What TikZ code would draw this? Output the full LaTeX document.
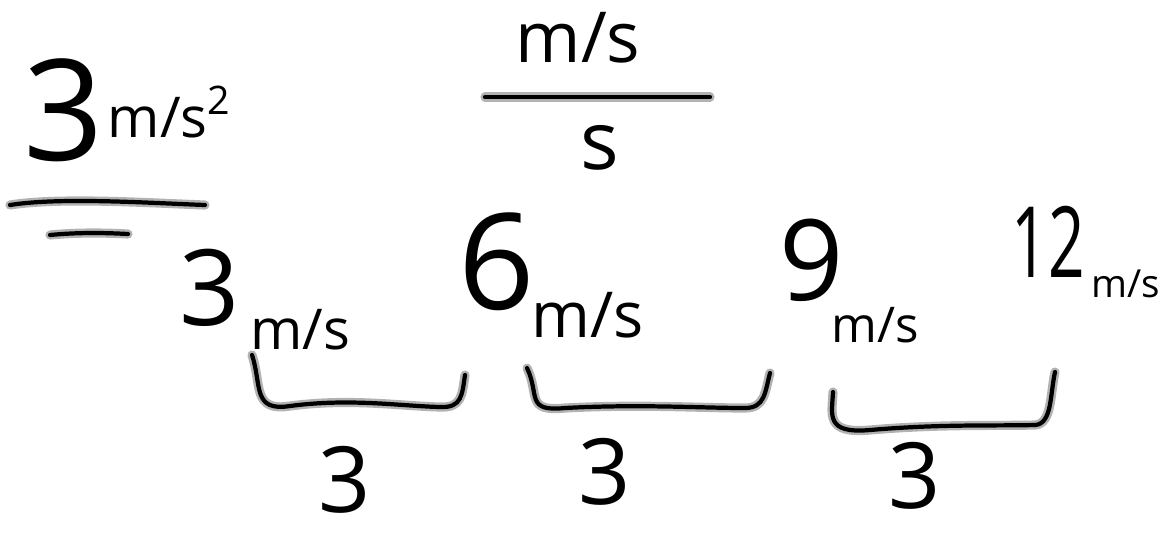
\documentclass[tikz,border=0pt]{standalone}
\usepackage{fontspec}
\setmainfont{Open Sans}

\tikzset{
  ink/.style={line width=1.2pt, line cap=round, line join=round,
    preaction={draw=gray!60, line width=2.6pt, line cap=round, line join=round}},
  hand/.style={inner sep=0pt, font=\fontsize{#1}{#1}\selectfont}
}

\begin{document}
\begin{tikzpicture}[x=0.01cm, y=-0.01cm]

    % canvas in pixel units (1166 x 532)
    \useasboundingbox (0,0) rectangle (1166,532);

    % 1. acceleration written on the left
    \node[hand=40pt] (accNum) at (64,110) {3};
    \node[hand=16pt] (accUnit) at (170,112) {m/s\textsuperscript{2}};

    \coordinate (accBarL) at (10,205);
    \coordinate (accBarR) at (205,205);
    \coordinate (accDashL) at (50,235);
    \coordinate (accDashR) at (128,234);
    \draw[ink] (accBarL) .. controls (60,197) and (150,203) .. (accBarR);
    \draw[ink] (accDashL) .. controls (80,232) and (110,233) .. (accDashR);

    % 2. the unit fraction at the top
    \node[hand=20pt] (topNum) at (578,38) {m/s};
    \node[hand=23pt] (topDen) at (600,148) {s};
    \coordinate (fracL) at (485,97);
    \coordinate (fracR) at (710,97);
    \draw[ink] (fracL) -- (fracR);

    % 3. speeds
    \node[hand=30pt] (vA) at (210,288) {3};
    \node[hand=16pt] (vAu) at (300,330) {m/s};
    \node[hand=38pt] (vB) at (497,262) {6};
    \node[hand=18pt] (vBu) at (588,315) {m/s};
    \node[hand=32pt] (vC) at (812,260) {9};
    \node[hand=14pt] (vCu) at (875,325) {m/s};
    \node[hand=28pt] (vD) at (1048,242) {\scalebox{0.65}[1]{12}};
    \node[hand=11pt] (vDu) at (1126,284) {m/s};

    % 4. brackets between the speeds
    \coordinate (brA1) at (252,355);
    \coordinate (brA2) at (465,375);
    \coordinate (brB1) at (527,368);
    \coordinate (brB2) at (770,373);
    \coordinate (brC1) at (833,392);
    \coordinate (brC2) at (1055,372);

    \draw[ink] (brA1) .. controls (262,385) and (252,412) .. (290,406)
        .. controls (350,398) and (400,406) .. (440,407)
        .. controls (462,408) and (462,395) .. (brA2);
    \draw[ink] (brB1) .. controls (540,395) and (525,412) .. (565,408)
        .. controls (640,404) and (700,408) .. (745,408)
        .. controls (765,408) and (765,392) .. (brB2);
    \draw[ink] (brC1) .. controls (832,415) and (825,434) .. (870,430)
        .. controls (940,424) and (990,426) .. (1035,425)
        .. controls (1052,424) and (1050,395) .. (brC2);

    % 5. time steps
    \node[hand=26pt] (dtA) at (345,480) {3};
    \node[hand=26pt] (dtB) at (605,472) {3};
    \node[hand=26pt] (dtC) at (915,476) {3};

\end{tikzpicture}
\end{document}
